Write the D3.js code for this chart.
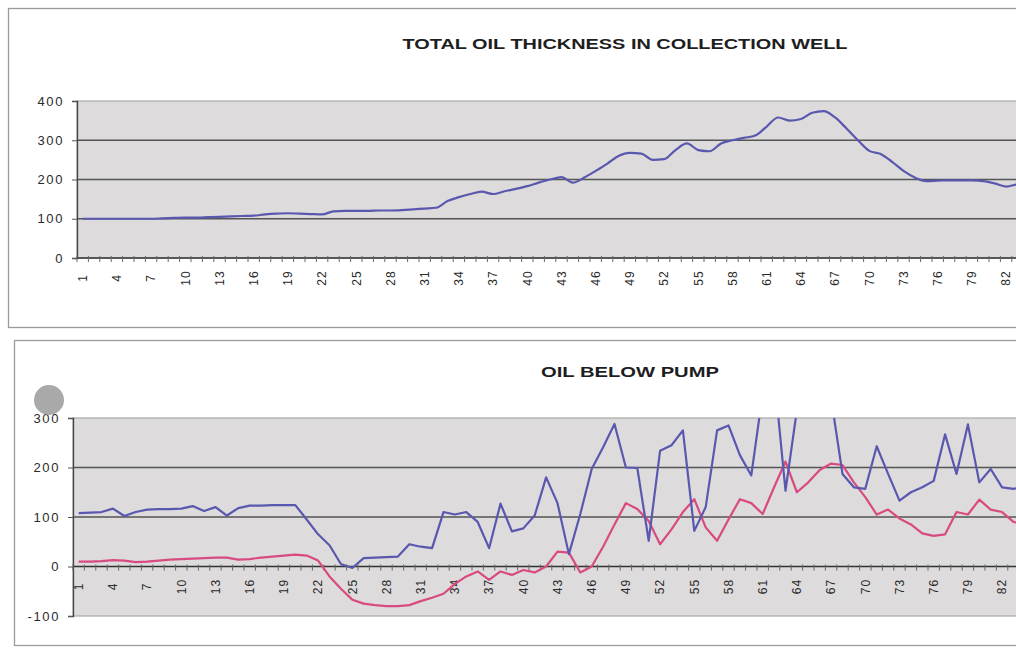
<!DOCTYPE html>
<html><head><meta charset="utf-8">
<script src="https://cdn.jsdelivr.net/npm/d3@7"></script>
<style>
body{margin:0;background:#fff;}
svg{display:block;font-family:Arial,"Liberation Sans",sans-serif;}
</style>
</head><body>
<svg id="c" width="1016" height="651"></svg>
<script>
// ---- data ----
const categories = [1,2,3,4,5,6,7,8,9,10,11,12,13,14,15,16,17,18,19,20,21,22,23,24,25,26,27,28,29,30,31,32,33,34,35,36,37,38,39,40,41,42,43,44,45,46,47,48,49,50,51,52,53,54,55,56,57,58,59,60,61,62,63,64,65,66,67,68,69,70,71,72,73,74,75,76,77,78,79,80,81,82,83,84];
const tickLabels = [1,4,7,10,13,16,19,22,25,28,31,34,37,40,43,46,49,52,55,58,61,64,67,70,73,76,79,82];

const totalThickness = [100,100,100,100,100,100,100,
  101,102,103,103,104,105,106,107,108,
  111,113,114,113,112,111,
  119,120,120,120,121,121,122,124,126,128,
  145,155,163,169,163,170,176,183,192,200,
  206,192,205,222,240,260,268,266,250,252,
  275,292,275,272,292,300,306,312,335,358,
  350,354,370,374,358,330,300,273,265,245,
  222,205,196,197,198,198,198,196,190,182,188,192];

const pumpBlue = [108,109,110,117,102,110,115,116,116,117,
  122,112,120,103,118,123,123,124,124,124,
  95,65,43,5,-3,17,18,19,20,45,
  40,37,110,105,110,90,37,127,71,77,
  103,180,128,25,106,197,241,288,200,199,
  52,234,245,275,72,120,275,285,225,184,
  350,390,153,316,340,330,340,187,160,157,
  243,187,133,150,160,173,267,187,287,170,
  197,160,157,160];

const pumpPink = [10,10,11,13,12,9,10,12,14,15,
  16,17,18,18,14,15,18,20,22,24,
  22,12,-20,-45,-67,-75,-78,-80,-80,-78,
  -70,-63,-55,-35,-20,-10,-27,-10,-17,-7,
  -12,0,30,28,-12,0,40,85,128,116,
  92,45,75,110,136,79,52,95,136,128,
  106,160,212,150,170,195,208,205,170,140,
  105,115,97,85,67,62,65,110,105,135,
  115,110,90,85];

const topYTicks = [0,100,200,300,400];
const bottomYTicks = [-100,0,100,200,300];

// ---- drawing ----
const svg = d3.select("#c");
const STEP = 11.4;

function drawChart(cfg){
  const g = svg.append("g");
  g.append("rect").attr("x",cfg.frame[0]+0.5).attr("y",cfg.frame[1]+0.5)
    .attr("width",cfg.frame[2]).attr("height",cfg.frame[3])
    .attr("fill","#fff").attr("stroke","#9a9a9a").attr("stroke-width",1.3);
  g.append("text").attr("x",cfg.titleX).attr("y",cfg.titleY)
    .attr("text-anchor","middle").attr("font-weight","bold").attr("font-size",14)
    .attr("fill","#1e1e1e").attr("textLength",cfg.titleLen).attr("lengthAdjust","spacingAndGlyphs")
    .text(cfg.title);

  const x = d3.scaleBand().domain(categories)
    .range([cfg.left, cfg.left + categories.length*STEP]).padding(0);
  const y = d3.scaleLinear().domain(cfg.domain).range([cfg.bottom, cfg.top]);
  const cx = d => x(d) + x.bandwidth()/2;
  const right = cfg.left + categories.length*STEP;

  g.append("rect").attr("x",cfg.left).attr("y",cfg.top)
    .attr("width",right-cfg.left).attr("height",cfg.bottom-cfg.top)
    .attr("fill","#dddbdc").attr("stroke","#a8a8a8").attr("stroke-width",1.2);

  g.selectAll(".grid").data(cfg.ticks.filter(t => t!==cfg.domain[0] && t!==cfg.domain[1] && t!==0))
    .enter().append("line")
    .attr("x1",cfg.left).attr("x2",right)
    .attr("y1",d=>y(d)).attr("y2",d=>y(d))
    .attr("stroke","#555").attr("stroke-width",1.3);

  const ya = g.append("g").attr("transform",`translate(${cfg.left},0)`)
    .call(d3.axisLeft(y).tickValues(cfg.ticks).tickSize(5).tickPadding(8).tickFormat(d => String(d)));
  ya.select(".domain").attr("stroke","#444").attr("stroke-width",1.3);
  ya.selectAll(".tick line").attr("stroke","#555");
  ya.selectAll("text").attr("font-size",13).attr("fill","#2a2a2a")
    .style("letter-spacing","1.6px").attr("font-family","Arial, 'Liberation Sans', sans-serif");

  const y0 = y(0);
  g.append("line").attr("x1",cfg.left).attr("x2",right).attr("y1",y0).attr("y2",y0)
    .attr("stroke","#333").attr("stroke-width",1.4);
  g.selectAll(".xminor").data(categories).enter().append("line")
    .attr("x1",d=>x(d)).attr("x2",d=>x(d))
    .attr("y1",y0-2).attr("y2",y0+4)
    .attr("stroke","#666").attr("stroke-width",1);
  const xa = g.append("g").attr("transform",`translate(0,${y0})`)
    .call(d3.axisBottom(x).tickValues(tickLabels).tickSize(0));
  xa.select(".domain").remove();
  xa.selectAll("text").attr("transform","rotate(-90)")
    .attr("x",-20).attr("y",0).attr("dy","0.35em")
    .style("text-anchor","middle").attr("font-size",12).attr("fill","#2a2a2a")
    .style("letter-spacing","1px").attr("font-family","Arial, 'Liberation Sans', sans-serif");

  const cid = "clip"+cfg.id;
  svg.append("clipPath").attr("id",cid).append("rect")
    .attr("x",cfg.left).attr("y",cfg.top).attr("width",right-cfg.left).attr("height",cfg.bottom-cfg.top);

  cfg.series.forEach(s=>{
    const line = d3.line().x((d,i)=>cx(categories[i])).y(d=>y(d)).curve(s.curve);
    g.append("path").datum(s.values).attr("d",line)
      .attr("fill","none").attr("stroke",s.color).attr("stroke-width",2.2)
      .attr("stroke-linejoin","round").attr("clip-path",`url(#${cid})`);
  });
}

drawChart({
  id:"top", frame:[8,8,1100,319],
  title:"TOTAL OIL THICKNESS IN COLLECTION WELL", titleX:625, titleY:49, titleLen:445,
  left:77, top:101, bottom:258, domain:[0,400], ticks:topYTicks,
  series:[{values:totalThickness, color:"#5a58ae", curve:d3.curveMonotoneX}]
});

drawChart({
  id:"bot", frame:[14,340,1100,305],
  title:"OIL BELOW PUMP", titleX:630, titleY:377, titleLen:178,
  left:73, top:418, bottom:616, domain:[-100,300], ticks:bottomYTicks,
  series:[
    {values:pumpPink, color:"#d84a80", curve:d3.curveLinear},
    {values:pumpBlue, color:"#5a58ae", curve:d3.curveLinear}
  ]
});

// scan artifact (grey punched dot) over the bottom chart
svg.append("circle").attr("cx",49).attr("cy",400).attr("r",15).attr("fill","#a9a9a9");
</script>
</body></html>
